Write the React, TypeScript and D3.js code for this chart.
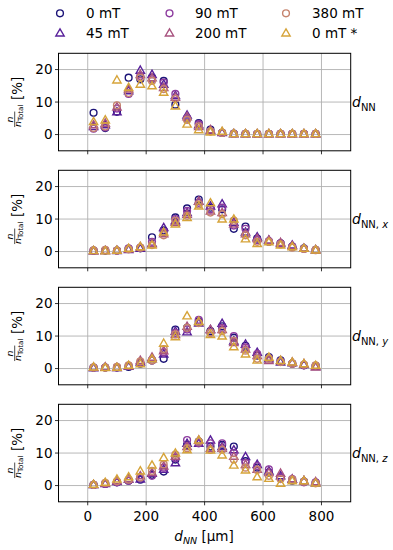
import React from "react";
import * as d3 from "d3";

const xValues = [20, 60, 100, 140, 180, 220, 260, 300, 340, 380, 420, 460, 500, 540, 580, 620, 660, 700, 740, 780];
const seriesLabels = ["0 mT", "45 mT", "90 mT", "200 mT", "380 mT", "0 mT *"];
const seriesColors = ["#1c1478", "#58209a", "#8c3a9e", "#a8537f", "#c6846e", "#d6a43a"];
const seriesShapes = ["circle", "triangle", "circle", "triangle", "circle", "triangle"];
const xTicks = [0, 200, 400, 600, 800];
const yTicks = [0, 10, 20];
const panelSubs = ["NN", "NN, x", "NN, y", "NN, z"];

const dNN: number[][] = [
  [6.7, 2.0, 7.0, 17.5, 17.0, 17.5, 16.5, 9.2, 5.0, 3.5, 1.5, 0.5, 0.3, 0.2, 0.2, 0.2, 0.2, 0.2, 0.2, 0.2],
  [2.5, 3.0, 7.0, 13.5, 19.8, 18.5, 15.5, 12.0, 6.0, 3.0, 1.2, 0.6, 0.2, 0.2, 0.2, 0.2, 0.2, 0.2, 0.2, 0.2],
  [1.8, 2.2, 8.0, 12.5, 18.0, 17.0, 16.0, 12.5, 5.0, 3.2, 1.0, 0.5, 0.2, 0.2, 0.2, 0.2, 0.2, 0.2, 0.2, 0.2],
  [3.0, 3.5, 8.5, 14.0, 18.5, 17.5, 14.5, 11.5, 5.5, 2.5, 1.5, 0.8, 0.3, 0.2, 0.2, 0.2, 0.2, 0.2, 0.2, 0.2],
  [2.0, 2.5, 9.0, 12.8, 17.5, 16.5, 14.0, 11.0, 4.5, 2.5, 1.0, 0.5, 0.2, 0.2, 0.2, 0.2, 0.2, 0.2, 0.2, 0.2],
  [4.0, 4.5, 16.8, 14.5, 15.5, 15.0, 13.0, 8.8, 3.2, 1.5, 0.8, 1.0, 0.3, 0.3, 0.3, 0.3, 0.3, 0.3, 0.3, 0.3],
];

const dNNx: number[][] = [
  [0.3, 0.3, 0.3, 0.8, 1.0, 4.4, 6.5, 10.5, 13.3, 16.0, 13.5, 13.0, 7.0, 7.7, 4.0, 3.0, 2.5, 1.5, 1.0, 0.5],
  [0.2, 0.3, 0.3, 0.6, 1.0, 2.5, 7.4, 9.5, 12.0, 15.5, 14.0, 14.7, 9.0, 6.0, 4.5, 3.5, 2.5, 2.0, 1.0, 0.5],
  [0.3, 0.4, 0.3, 1.0, 1.2, 3.0, 6.0, 10.0, 12.5, 15.0, 13.0, 13.5, 8.0, 7.0, 3.5, 3.2, 2.5, 1.5, 0.8, 0.4],
  [0.2, 0.3, 0.4, 0.8, 1.5, 2.5, 5.5, 9.0, 11.5, 15.5, 12.5, 12.0, 8.5, 5.5, 4.0, 3.5, 2.8, 1.8, 1.0, 0.6],
  [0.4, 0.5, 0.3, 0.7, 1.2, 2.0, 5.0, 9.5, 11.0, 14.5, 12.0, 11.5, 9.5, 5.0, 3.0, 3.0, 2.2, 1.2, 0.8, 0.5],
  [0.3, 0.2, 0.4, 1.0, 1.5, 2.0, 6.0, 8.5, 10.5, 14.0, 15.0, 10.0, 10.0, 3.9, 2.5, 3.0, 2.0, 1.5, 1.0, 0.5],
];

const dNNy: number[][] = [
  [0.3, 0.3, 0.3, 0.5, 1.5, 2.5, 3.0, 12.0, 12.5, 14.5, 11.5, 13.0, 9.5, 7.0, 4.0, 3.5, 2.5, 1.5, 1.0, 0.8],
  [0.2, 0.4, 0.3, 0.7, 2.0, 3.0, 4.5, 11.5, 11.3, 14.0, 12.0, 13.9, 8.5, 7.5, 5.0, 3.0, 2.0, 1.8, 1.2, 0.6],
  [0.3, 0.3, 0.4, 0.8, 1.8, 2.5, 5.0, 11.0, 12.0, 15.0, 11.0, 12.5, 10.0, 6.5, 4.5, 3.2, 2.2, 1.5, 1.0, 0.8],
  [0.4, 0.5, 0.3, 0.8, 2.5, 3.5, 5.5, 10.5, 13.0, 14.5, 12.0, 12.0, 8.0, 6.0, 4.0, 2.5, 2.5, 2.0, 1.5, 0.5],
  [0.3, 0.3, 0.5, 1.0, 2.2, 2.5, 6.0, 10.5, 12.5, 14.0, 11.0, 11.5, 8.5, 5.5, 3.0, 3.0, 2.0, 1.5, 1.2, 1.0],
  [0.5, 0.3, 0.4, 1.0, 1.5, 3.0, 7.8, 9.8, 16.2, 14.5, 10.5, 10.0, 6.7, 4.5, 2.6, 3.5, 2.5, 2.0, 1.5, 1.0],
];

const dNNz: number[][] = [
  [0.2, 0.5, 1.0, 1.5, 1.8, 3.3, 4.3, 8.0, 12.5, 13.5, 12.0, 12.5, 12.0, 7.5, 5.5, 4.0, 2.5, 1.5, 1.2, 0.8],
  [0.3, 0.6, 1.2, 2.0, 2.0, 3.8, 5.0, 7.0, 13.0, 13.0, 14.0, 12.0, 11.0, 8.9, 6.5, 4.5, 3.0, 2.0, 1.5, 0.8],
  [0.2, 0.5, 1.0, 1.5, 2.5, 3.0, 5.5, 8.5, 14.0, 13.0, 13.0, 13.0, 10.0, 7.0, 6.0, 5.0, 2.5, 2.0, 1.0, 1.0],
  [0.3, 0.7, 1.5, 2.0, 3.0, 4.0, 6.0, 9.0, 12.0, 14.0, 11.5, 11.5, 9.0, 6.5, 5.0, 4.0, 3.8, 2.0, 1.5, 1.2],
  [0.2, 0.8, 1.3, 1.8, 2.5, 4.5, 6.5, 9.5, 11.5, 13.5, 11.0, 11.0, 8.0, 5.5, 4.8, 3.0, 2.0, 1.8, 1.2, 0.7],
  [0.4, 1.0, 2.0, 2.7, 4.5, 6.3, 8.6, 10.0, 11.0, 14.0, 10.9, 9.4, 6.3, 4.8, 2.7, 2.2, 0.7, 1.5, 1.5, 0.8],
];

const panels = [dNN, dNNx, dNNy, dNNz];

const W = 393;
const H = 550;
const left = 58.5;
const right = 350.7;
const panelTop0 = 53.3;
const panelStep = 117;
const panelH = 97.5;
const font = "DejaVu Sans, sans-serif";

const triPath = d3.symbol(d3.symbolTriangle, 30)() as string;

function Marker({ shape, color, x, y }: { shape: string; color: string; x: number; y: number }) {
  if (shape === "circle") {
    return <circle cx={x} cy={y} r={3.4} fill="none" stroke={color} strokeWidth={1.4} />;
  }
  return (
    <path d={triPath} transform={`translate(${x},${y + 0.6})`} fill="none" stroke={color} strokeWidth={1.4} strokeLinejoin="miter" />
  );
}

export default function App() {
  const x = d3.scaleLinear().domain([-100, 900]).range([left, right]);
  return (
    <svg width={W} height={H} style={{ display: "block", position: "absolute", left: 0, top: 0 }} fontFamily={font}>
      <rect width={W} height={H} fill="white" />
      {/* legend */}
      {seriesLabels.map((lab, i) => {
        const col = Math.floor(i / 2);
        const row = i % 2;
        const mx = [60, 169.5, 286][col];
        const tx = [86, 195, 312][col];
        const my = row === 0 ? 13.3 : 33;
        return (
          <g key={lab}>
            <Marker shape={seriesShapes[i]} color={seriesColors[i]} x={mx} y={my} />
            <text x={tx} y={my + 5} fontSize={13.5} fill="#000">{lab}</text>
          </g>
        );
      })}
      {panels.map((series, p) => {
        const top = panelTop0 + p * panelStep;
        const y = d3.scaleLinear().domain([-5, 25]).range([top + panelH, top]);
        const cy = top + panelH / 2;
        return (
          <g key={p}>
            <defs>
              <clipPath id={`clip${p}`}>
                <rect x={left} y={top} width={right - left} height={panelH} />
              </clipPath>
            </defs>
            {/* grid */}
            {xTicks.map((t) => (
              <line key={`gx${t}`} x1={x(t)} x2={x(t)} y1={top} y2={top + panelH} stroke="#b0b0b0" strokeWidth={0.9} />
            ))}
            {yTicks.map((t) => (
              <line key={`gy${t}`} x1={left} x2={right} y1={y(t)} y2={y(t)} stroke="#b0b0b0" strokeWidth={0.9} />
            ))}
            {/* data */}
            <g clipPath={`url(#clip${p})`}>
              {series.map((vals, s) =>
                vals.map((v, k) => (
                  <Marker key={`${s}-${k}`} shape={seriesShapes[s]} color={seriesColors[s]} x={x(xValues[k])} y={y(v)} />
                ))
              )}
            </g>
            {/* frame */}
            <rect x={left} y={top} width={right - left} height={panelH} fill="none" stroke="#000" strokeWidth={1} />
            {/* y ticks */}
            {yTicks.map((t) => (
              <g key={`yt${t}`}>
                <line x1={left - 3.5} x2={left} y1={y(t)} y2={y(t)} stroke="#000" strokeWidth={0.8} />
                <text x={left - 6} y={y(t) + 4.8} fontSize={13.5} textAnchor="end" fill="#000">{t}</text>
              </g>
            ))}
            {/* x ticks */}
            {xTicks.map((t) => (
              <line key={`xt${t}`} x1={x(t)} x2={x(t)} y1={top + panelH} y2={top + panelH + 3.5} stroke="#000" strokeWidth={0.8} />
            ))}
            {p === panels.length - 1 &&
              xTicks.map((t) => (
                <text key={`xl${t}`} x={x(t)} y={top + panelH + 19.5} fontSize={13.5} textAnchor="middle" fill="#000">{t}</text>
              ))}
            {/* y label */}
            <g transform={`translate(18,${cy}) rotate(-90)`}>
              <text x={-17.5} y={-5.3} fontSize={9.5} fontStyle="italic" textAnchor="middle" fill="#000">n</text>
              <line x1={-25} x2={-9.5} y1={-3.3} y2={-3.3} stroke="#000" strokeWidth={0.7} />
              <text x={-25} y={3} fontSize={9.5} fill="#000">
                <tspan fontStyle="italic">n</tspan>
                <tspan fontSize={7} dy={1.8}>Total</tspan>
              </text>
              <text x={2} y={3.5} fontSize={13.5} fill="#000">[%]</text>
            </g>
            {/* right label */}
            <text x={352} y={cy + 5} fontSize={14} fill="#000">
              <tspan fontStyle="italic">d</tspan>
              <tspan fontSize={10} dy={3.5}>
                {panelSubs[p].includes(",") ? (
                  <>
                    {panelSubs[p].split(",")[0]},
                    <tspan fontStyle="italic">{" " + panelSubs[p].split(",")[1].trim()}</tspan>
                  </>
                ) : (
                  panelSubs[p]
                )}
              </tspan>
            </text>
          </g>
        );
      })}
      {/* x label */}
      <text x={204} y={541} fontSize={13.5} textAnchor="middle" fill="#000">
        <tspan fontStyle="italic">d</tspan>
        <tspan fontSize={9.5} fontStyle="italic" dy={3}>NN</tspan>
        <tspan dy={-3}> [µm]</tspan>
      </text>
    </svg>
  );
}
